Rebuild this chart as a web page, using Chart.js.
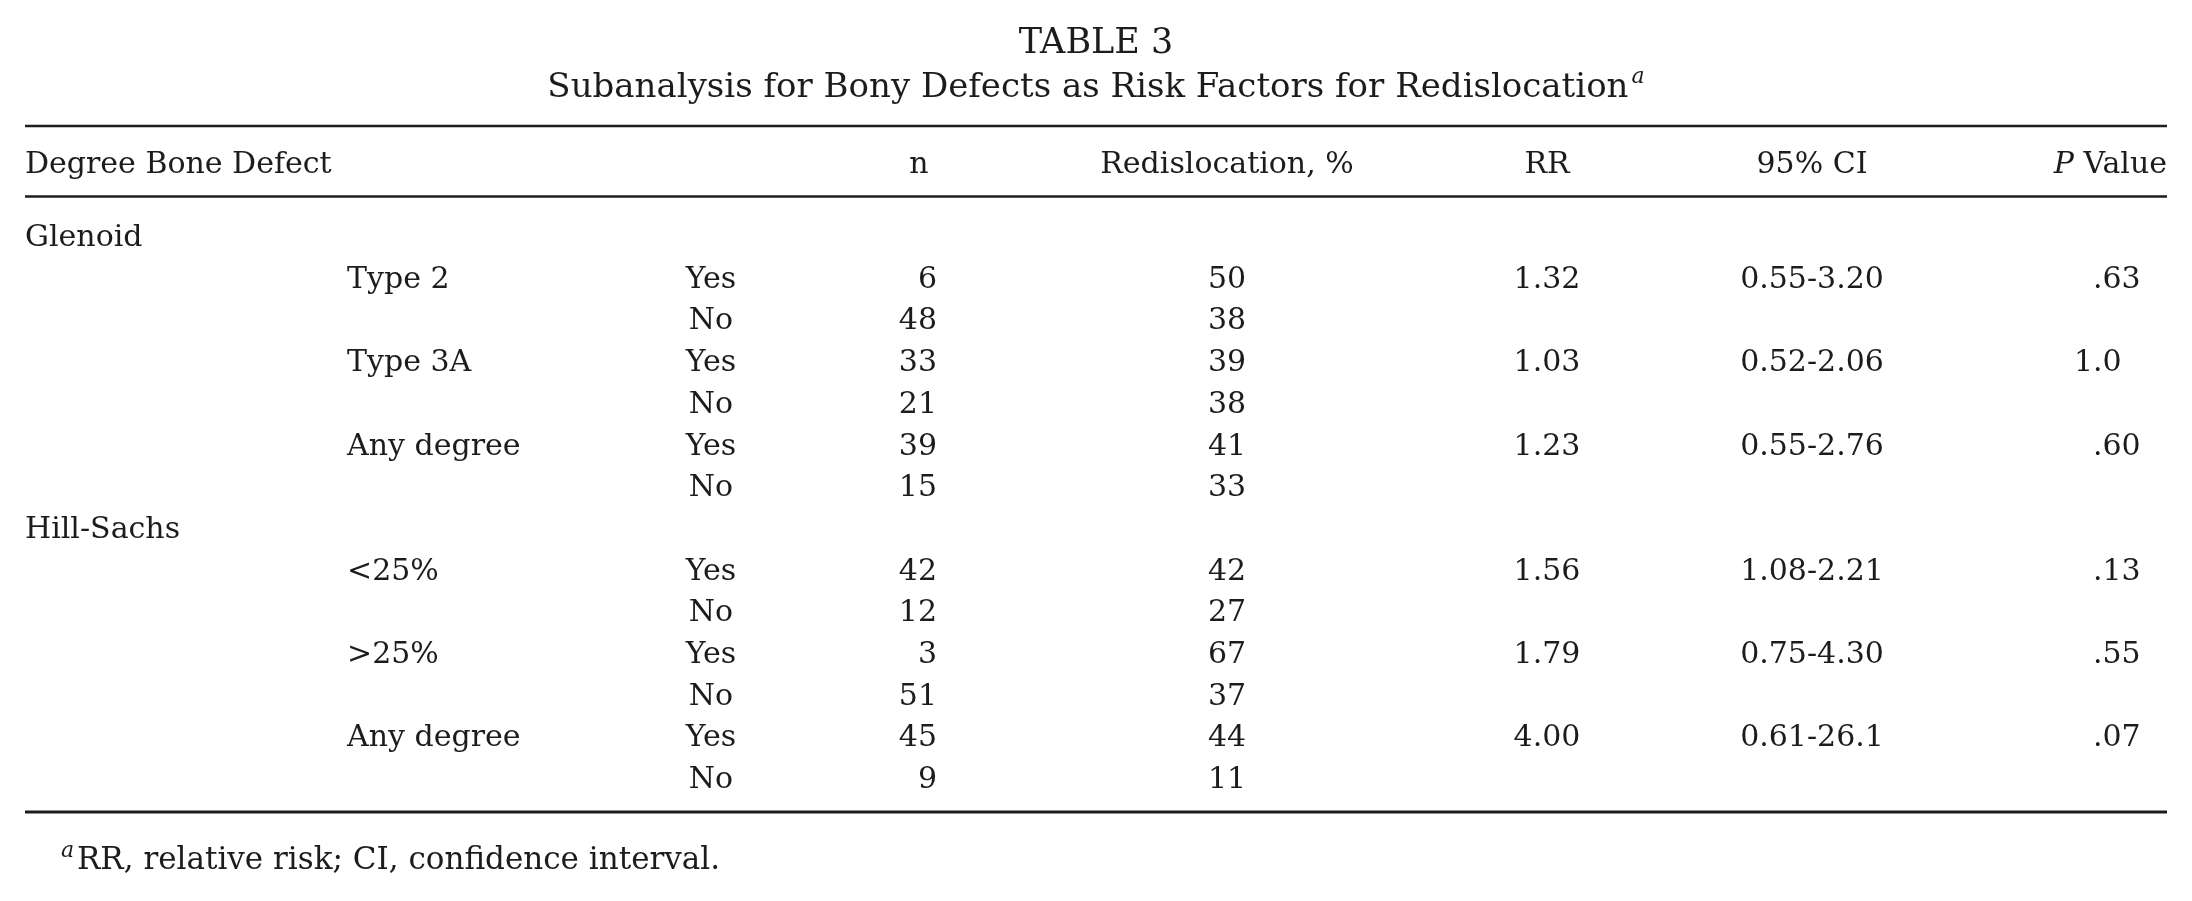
<!DOCTYPE html>
<html>
<head>
<meta charset="utf-8">
<script src="https://cdn.jsdelivr.net/npm/chart.js@4"></script>
<style>
  html, body { margin: 0; padding: 0; background: #fff; }
  canvas { display: block; }
</style>
</head>
<body>
<canvas id="table3" width="2192" height="901"></canvas>
<script>
// table content
const tableTitle = 'TABLE 3'
const tableSubtitle = 'Subanalysis for Bony Defects as Risk Factors for Redislocation'
const footnote = 'RR, relative risk; CI, confidence interval.'
const headers = ['Degree Bone Defect', 'n', 'Redislocation, %', 'RR', '95% CI', 'Value']
const groups = ['Glenoid', 'Hill-Sachs']
const subgroups = [
    ['Type 2', 'Type 3A', 'Any degree'],
    ['<25%', '>25%', 'Any degree'],
]
const answers = ['Yes', 'No']
const nValues = [6, 48, 33, 21, 39, 15, 42, 12, 3, 51, 45, 9]
const redislocation = [50, 38, 39, 38, 41, 33, 42, 27, 67, 37, 44, 11]
const relRisk = ['1.32', '1.03', '1.23', '1.56', '1.79', '4.00']
const confInt = ['0.55-3.20', '0.52-2.06', '0.55-2.76', '1.08-2.21', '0.75-4.30', '0.61-26.1']
const pValues = ['.63', '1.0', '.60', '.13', '.55', '.07']

// layout: x in page units, y in row units (row 1 = first group line)
const FONT = '"DejaVu Serif", "Liberation Serif", serif'
const BODY = 30
const ROW_PITCH = 41.7
const FIRST_ROW_PX = 246
const col = {
    left: 25,
    sub: 347,
    answer: 711,
    nRight: 937,
    nHead: 919,
    redis: 1227,
    rr: 1547,
    ci: 1812,
    pDot: 2093,
    right: 2167,
    center: 1096,
}
const rowAt = (px) => px / ROW_PITCH + (1 - FIRST_ROW_PX / ROW_PITCH)
const rows = {
    title: rowAt(53),
    subtitle: rowAt(97),
    topRule: rowAt(126),
    header: rowAt(173),
    headRule: rowAt(196.5),
    bottomRule: rowAt(812),
    footnote: rowAt(869),
}

const tablePlugin = {
    id: 'tableText',
    afterDraw(chart) {
        const ctx = chart.ctx
        const xs = chart.scales.x
        const ys = chart.scales.y
        const X = (v) => xs.getPixelForValue(v)
        const Y = (v) => ys.getPixelForValue(v)

        ctx.save()
        ctx.fillStyle = '#1c1c1c'
        ctx.strokeStyle = '#1c1c1c'
        ctx.textBaseline = 'alphabetic'

        const text = (str, x, y, align = 'left', size = BODY, style = '') => {
            ctx.font = `${style} ${size}px ${FONT}`
            ctx.textAlign = align
            ctx.fillText(str, X(x), Y(y))
        }

        // title lines
        text(tableTitle, col.center, rows.title, 'center', 35)
        ctx.font = `34px ${FONT}`
        const subW = ctx.measureText(tableSubtitle).width
        ctx.font = `italic 22px ${FONT}`
        const supW = ctx.measureText('a').width + 3
        const subLeft = X(col.center) - (subW + supW) / 2
        ctx.font = `34px ${FONT}`
        ctx.textAlign = 'left'
        ctx.fillText(tableSubtitle, subLeft, Y(rows.subtitle))
        ctx.font = `italic 22px ${FONT}`
        ctx.fillText('a', subLeft + subW + 3, Y(rows.subtitle) - 14)

        // rules
        const rule = (r, w) => {
            ctx.lineWidth = w
            ctx.beginPath()
            ctx.moveTo(X(col.left), Y(r))
            ctx.lineTo(X(col.right), Y(r))
            ctx.stroke()
        }
        rule(rows.topRule, 2.5)
        rule(rows.headRule, 2.5)
        rule(rows.bottomRule, 3)

        // header
        text(headers[0], col.left, rows.header)
        text(headers[1], col.nHead, rows.header, 'center')
        text(headers[2], col.redis, rows.header, 'center')
        text(headers[3], col.rr, rows.header, 'center')
        text(headers[4], col.ci, rows.header, 'center')
        text(headers[5], col.right, rows.header, 'right')
        ctx.font = `${BODY}px ${FONT}`
        const valW = ctx.measureText(' ' + headers[5]).width
        ctx.font = `italic ${BODY}px ${FONT}`
        ctx.textAlign = 'right'
        ctx.fillText('P', X(col.right) - valW, Y(rows.header))

        // body
        let r = 1
        groups.forEach((g, gi) => {
            text(g, col.left, r)
            r += 1
            subgroups[gi].forEach((s, si) => {
                const k = gi * 3 + si
                text(s, col.sub, r)
                text(relRisk[k], col.rr, r, 'center')
                text(confInt[k], col.ci, r, 'center')
                // P values line up on the decimal point
                const p = pValues[k]
                ctx.font = `${BODY}px ${FONT}`
                const before = ctx.measureText(p.slice(0, p.indexOf('.'))).width
                ctx.textAlign = 'left'
                ctx.fillText(p, X(col.pDot) - before, Y(r))
                answers.forEach((a, ai) => {
                    const idx = k * 2 + ai
                    text(a, col.answer, r, 'center')
                    text(String(nValues[idx]), col.nRight, r, 'right')
                    text(String(redislocation[idx]), col.redis, r, 'center')
                    r += 1
                })
            })
        })

        // footnote
        ctx.font = `italic 22px ${FONT}`
        ctx.textAlign = 'left'
        ctx.fillText('a', X(61), Y(rows.footnote) - 12)
        text(footnote, 77, rows.footnote, 'left', 31)
        ctx.restore()
    },
}

const yMin = rowAt(0)
const yMax = rowAt(901)

new Chart(document.getElementById('table3'), {
    type: 'scatter',
    data: { datasets: [] },
    options: {
        responsive: false,
        animation: false,
        devicePixelRatio: 1,
        layout: { padding: 0 },
        plugins: {
            legend: { display: false },
            tooltip: { enabled: false },
            title: { display: false },
        },
        scales: {
            x: { type: 'linear', display: false, min: 0, max: 2192 },
            y: { type: 'linear', display: false, reverse: true, min: yMin, max: yMax },
        },
    },
    plugins: [tablePlugin],
})
</script>
</body>
</html>
